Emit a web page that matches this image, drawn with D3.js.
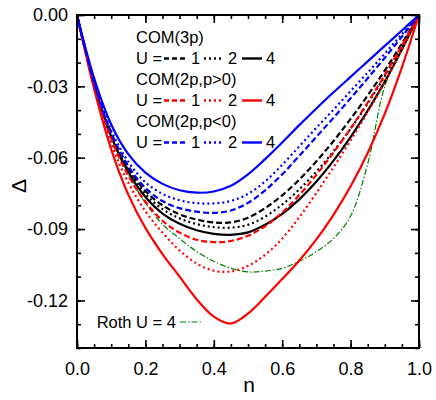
<!DOCTYPE html>
<html>
<head>
<meta charset="utf-8">
<script src="https://cdn.jsdelivr.net/npm/d3@7"></script>
<style>
  body { margin: 0; background: #fff; }
  text { font-family: "Liberation Sans", Arial, sans-serif; }
</style>
</head>
<body>
<svg width="436" height="400"></svg>
<script>
// filling n
var nValues = [0, 0.05, 0.1, 0.15, 0.2, 0.25, 0.3, 0.35, 0.4, 0.45, 0.5,
               0.55, 0.6, 0.65, 0.7, 0.75, 0.8, 0.85, 0.9, 0.95, 1];

// COM(3p)
var com3pU1 = [0, -0.029, -0.050, -0.0645, -0.074, -0.080, -0.0838, -0.086, -0.0872, -0.0872, -0.0852,
               -0.0812, -0.0758, -0.0692, -0.0615, -0.053, -0.0437, -0.0338, -0.0233, -0.012, 0];
var com3pU2 = [0, -0.029, -0.0505, -0.0652, -0.0752, -0.0816, -0.0855, -0.0879, -0.0892, -0.0894, -0.0882,
               -0.0848, -0.0797, -0.0733, -0.0658, -0.0573, -0.0478, -0.0372, -0.0257, -0.0132, 0];
var com3pU4 = [0, -0.029, -0.051, -0.066, -0.0765, -0.0835, -0.0878, -0.0905, -0.092, -0.0924, -0.0914,
               -0.0882, -0.0836, -0.0775, -0.070, -0.0612, -0.0513, -0.0402, -0.028, -0.0145, 0];
// COM(2p, p>0)
var comPposU1 = [0, -0.029, -0.052, -0.0675, -0.0785, -0.0865, -0.0915, -0.0945, -0.0955, -0.095, -0.0928,
                 -0.0888, -0.083, -0.0757, -0.0672, -0.0578, -0.0477, -0.0368, -0.0252, -0.0128, 0];
var comPposU2 = [0, -0.030, -0.054, -0.0705, -0.0825, -0.0915, -0.099, -0.1045, -0.1075, -0.1078, -0.1055,
                 -0.1008, -0.094, -0.085, -0.0748, -0.064, -0.0527, -0.0408, -0.0282, -0.0145, 0];
var comPposU4 = [0, -0.031, -0.0565, -0.0755, -0.0895, -0.1005, -0.110, -0.1195, -0.1268, -0.1297, -0.1255,
                 -0.1185, -0.111, -0.1032, -0.0943, -0.084, -0.072, -0.058, -0.0415, -0.022, 0];
// COM(2p, p<0)
var comPnegU1 = [0, -0.0285, -0.0495, -0.0635, -0.0727, -0.0782, -0.0812, -0.0827, -0.0832, -0.0822, -0.079,
                 -0.0737, -0.067, -0.0592, -0.0512, -0.0432, -0.035, -0.0266, -0.018, -0.0091, 0];
var comPnegU2 = [0, -0.028, -0.0485, -0.0617, -0.0703, -0.0752, -0.0779, -0.0791, -0.0792, -0.0782, -0.0752,
                 -0.0700, -0.063, -0.0552, -0.0474, -0.0398, -0.032, -0.0242, -0.0162, -0.0081, 0];
var comPnegU4 = [0, -0.0265, -0.046, -0.0585, -0.0663, -0.071, -0.0737, -0.0747, -0.0742, -0.0718, -0.067,
                 -0.0606, -0.0536, -0.0463, -0.0393, -0.0325, -0.026, -0.0195, -0.013, -0.0065, 0];
// Roth U = 4
var rothU4 = [0, -0.029, -0.0515, -0.067, -0.079, -0.088, -0.094, -0.0995, -0.1035, -0.1065, -0.108,
              -0.1077, -0.1065, -0.1035, -0.0995, -0.094, -0.0845, -0.0625, -0.030, -0.014, 0];

var xTicks = [0, 0.2, 0.4, 0.6, 0.8, 1.0];
var xTickLabels = ["0.0", "0.2", "0.4", "0.6", "0.8", "1.0"];
var yTicks = [0, -0.03, -0.06, -0.09, -0.12];
var yTickLabels = ["0.00", "-0.03", "-0.06", "-0.09", "-0.12"];

var groupNames = ["COM(3p)", "COM(2p,p>0)", "COM(2p,p<0)"];
var groupColors = ["#000000", "#ff0000", "#0000ff"];
var uLabels = ["1", "2", "4"];

function main() {
    var svg = d3.select("svg"),
        left = 77, top = 15, right = 419, bottom = 348;

    var x = d3.scaleLinear().domain([0, 1]).range([left, right]);
    var y = d3.scaleLinear().domain([-0.14, 0]).range([bottom, top]);

    var dashes = ["6,3", "2,3", null];
    var series = [
        [com3pU1, 0, 0], [com3pU2, 0, 1], [com3pU4, 0, 2],
        [comPposU1, 1, 0], [comPposU2, 1, 1], [comPposU4, 1, 2],
        [comPnegU1, 2, 0], [comPnegU2, 2, 1], [comPnegU4, 2, 2]
    ];

    var line = d3.line()
        .x(function(d, i) { return x(nValues[i]); })
        .y(function(d) { return y(d); })
        .curve(d3.curveCatmullRom.alpha(0.5));

    var plot = svg.append("g");

    // roth first, underneath
    plot.append("path")
        .attr("d", line(rothU4))
        .attr("fill", "none")
        .attr("stroke", "#008000")
        .attr("stroke-width", 1.2)
        .attr("stroke-dasharray", "6,2,1.5,2");

    series.forEach(function(s) {
        plot.append("path")
            .attr("d", line(s[0]))
            .attr("fill", "none")
            .attr("stroke", groupColors[s[1]])
            .attr("stroke-width", 2.2)
            .attr("stroke-dasharray", dashes[s[2]]);
    });

    // axes, ticks inside
    function styleAxis(g) {
        g.select(".domain").remove();
        g.selectAll(".tick line").attr("stroke", "#000").attr("stroke-width", 1.6);
        g.selectAll("text").attr("font-size", "18px").attr("fill", "#000")
            .style("font-family", "'Liberation Sans', Arial, sans-serif");
    }
    var xMinor = d3.range(0, 1.0001, 0.05);
    var yMinor = d3.range(0, -0.1401, -0.01);

    svg.append("g").attr("transform", "translate(0," + bottom + ")")
        .call(d3.axisBottom(x).tickValues(xTicks).tickSize(-8).tickPadding(14)
            .tickFormat(function(d, i) { return xTickLabels[i]; }))
        .call(styleAxis);
    svg.append("g").attr("transform", "translate(0," + bottom + ")")
        .call(d3.axisBottom(x).tickValues(xMinor).tickSize(-4).tickFormat(""))
        .call(styleAxis);
    svg.append("g").attr("transform", "translate(0," + top + ")")
        .call(d3.axisTop(x).tickValues(xTicks).tickSize(-8).tickFormat(""))
        .call(styleAxis);
    svg.append("g").attr("transform", "translate(0," + top + ")")
        .call(d3.axisTop(x).tickValues(xMinor).tickSize(-4).tickFormat(""))
        .call(styleAxis);

    svg.append("g").attr("transform", "translate(" + left + ",0)")
        .call(d3.axisLeft(y).tickValues(yTicks).tickSize(-8).tickPadding(9)
            .tickFormat(function(d, i) { return yTickLabels[i]; }))
        .call(styleAxis);
    svg.append("g").attr("transform", "translate(" + left + ",0)")
        .call(d3.axisLeft(y).tickValues(yMinor).tickSize(-4).tickFormat(""))
        .call(styleAxis);
    svg.append("g").attr("transform", "translate(" + right + ",0)")
        .call(d3.axisRight(y).tickValues(yTicks).tickSize(-8).tickFormat(""))
        .call(styleAxis);
    svg.append("g").attr("transform", "translate(" + right + ",0)")
        .call(d3.axisRight(y).tickValues(yMinor).tickSize(-4).tickFormat(""))
        .call(styleAxis);

    svg.append("rect")
        .attr("x", left).attr("y", top)
        .attr("width", right - left).attr("height", bottom - top)
        .attr("fill", "none").attr("stroke", "#000").attr("stroke-width", 2);

    // axis titles
    svg.append("text")
        .attr("x", (left + right) / 2 + 1).attr("y", 392)
        .attr("text-anchor", "middle").attr("font-size", "21px")
        .text("n");
    svg.append("text")
        .attr("transform", "translate(26,186) rotate(-90)")
        .attr("text-anchor", "middle").attr("font-size", "21px")
        .text("Δ");

    // legend
    var lg = svg.append("g").attr("font-size", "16.5px");
    groupNames.forEach(function(name, gi) {
        var by = 43 + gi * 42;
        lg.append("text").attr("x", 136).attr("y", by).text(name);
        var uy = by + 21;
        lg.append("text").attr("x", 136).attr("y", uy).text("U =");
        var segs = [[164, 187, 191], [204, 223, 228], [242, 262, 266]];
        segs.forEach(function(sg, k) {
            lg.append("line")
                .attr("x1", sg[0]).attr("x2", sg[1])
                .attr("y1", uy - 5.5).attr("y2", uy - 5.5)
                .attr("stroke", groupColors[gi])
                .attr("stroke-width", 2.4)
                .attr("stroke-dasharray", k === 0 ? "5,3" : dashes[k]);
            lg.append("text").attr("x", sg[2]).attr("y", uy).text(uLabels[k]);
        });
    });
    lg.append("text").attr("x", 176).attr("y", 328)
        .attr("text-anchor", "end").text("Roth U = 4");
    lg.append("line")
        .attr("x1", 180).attr("x2", 201).attr("y1", 322).attr("y2", 322)
        .attr("stroke", "#008000").attr("stroke-width", 1.2)
        .attr("stroke-dasharray", "6,2,1.5,2");
}
main();
</script>
</body>
</html>
